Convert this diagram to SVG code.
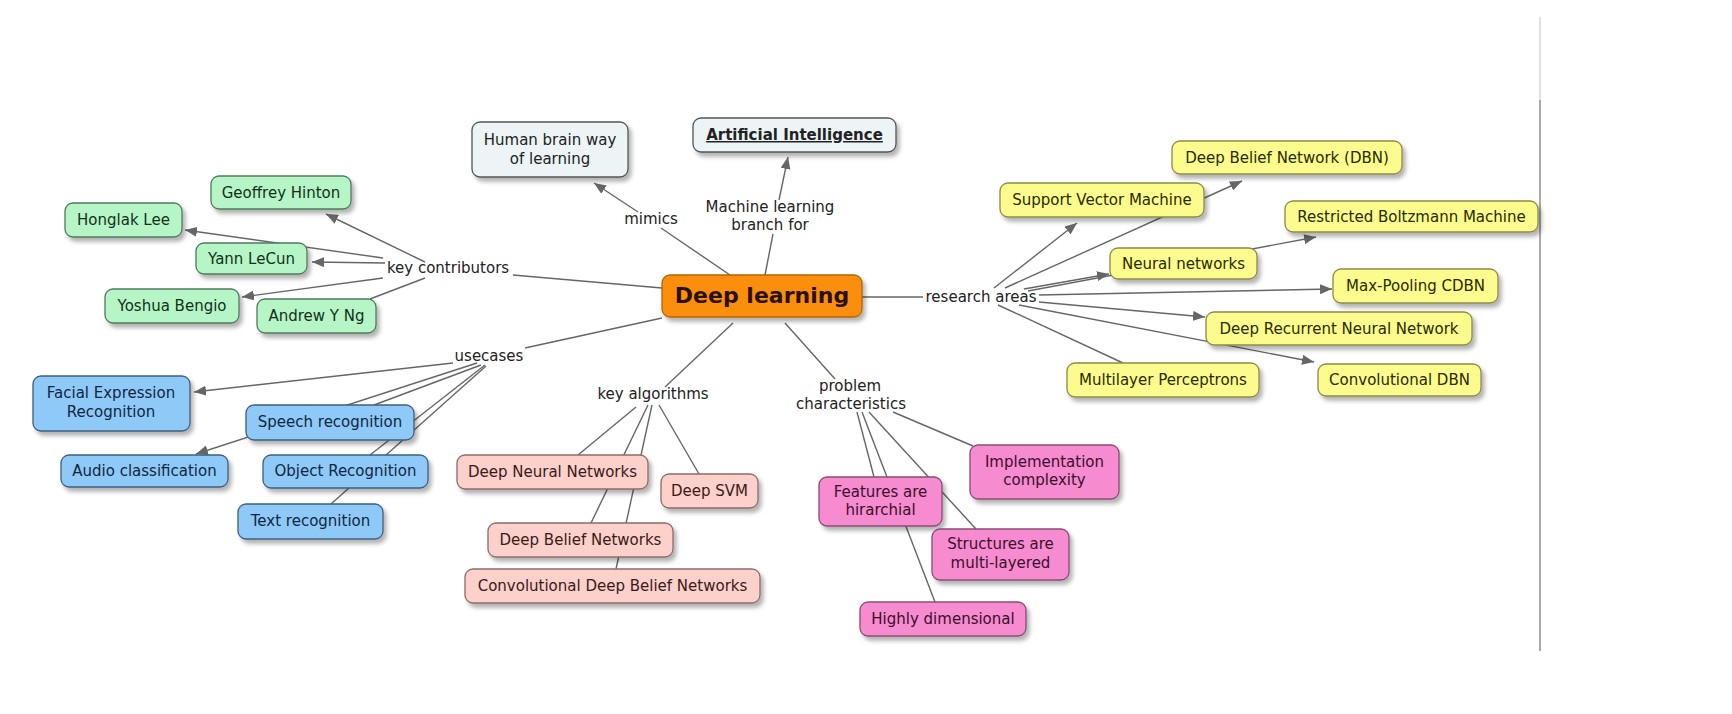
<svg xmlns="http://www.w3.org/2000/svg" width="1732" height="714" viewBox="0 0 1732 714">
<defs>
<filter id="sh" x="-10%" y="-20%" width="130%" height="160%">
<feDropShadow dx="3" dy="4" stdDeviation="2" flood-color="#000" flood-opacity="0.3"/>
</filter>
<marker id="ar" viewBox="0 0 12 10" refX="12" refY="5" markerWidth="12" markerHeight="10" markerUnits="userSpaceOnUse" orient="auto">
<path d="M0,0 L12,5 L0,10 Z" fill="#666"/>
</marker>
</defs>
<style>
text{font-family:"DejaVu Sans",Verdana,sans-serif;font-size:15px;text-anchor:middle}
.n rect{stroke-width:1.3;filter:url(#sh)}
.g rect{fill:#b6f5c6;stroke:#4f7a5c}
.g text{fill:#12301a}
.b rect{fill:#8fc9f7;stroke:#3e5f80}
.b text{fill:#0f2740}
.p rect{fill:#fcd0cb;stroke:#8f6b66}
.p text{fill:#3a1a18}
.m rect{fill:#f78bd0;stroke:#8a4c73}
.m text{fill:#3a0f2a}
.y rect{fill:#fcfc8e;stroke:#8a8a48}
.y text{fill:#2a2a00}
.w rect{fill:#ecf4f6;stroke:#555}
.w text{fill:#222}
.o rect{fill:#fb8e0c;stroke:#b56500}
.o text{fill:#2a1000;font-weight:bold;font-size:22px}
.lab{fill:#222}
#connectors line{stroke:#666;stroke-width:1.4;fill:none}
#connectors line.a{marker-end:url(#ar)}
</style>
<rect width="1732" height="714" fill="#fff"/>
<line x1="1540" y1="17" x2="1540" y2="100" stroke="#e0e0e0" stroke-width="2"/>
<line x1="1540" y1="100" x2="1540" y2="651" stroke="#aaa" stroke-width="2"/>
<g id="connectors">
<line x1="730" y1="275" x2="661" y2="228"/>
<line class="a" x1="638" y1="212" x2="594" y2="183"/>
<line x1="765" y1="275" x2="773" y2="234"/>
<line class="a" x1="779" y1="200" x2="788" y2="157"/>
<line x1="662" y1="288" x2="513" y2="275"/>
<line x1="662" y1="318" x2="525" y2="348"/>
<line x1="733" y1="323" x2="665" y2="387"/>
<line x1="785" y1="323" x2="835" y2="379"/>
<line x1="862" y1="297" x2="923" y2="297"/>
<line class="a" x1="425" y1="262" x2="326" y2="214"/>
<line class="a" x1="383" y1="258" x2="185" y2="230"/>
<line class="a" x1="385" y1="263" x2="312" y2="262"/>
<line class="a" x1="383" y1="278" x2="242" y2="297"/>
<line x1="425" y1="278" x2="370" y2="299"/>
<line class="a" x1="453" y1="363" x2="194" y2="392"/>
<line class="a" x1="477" y1="363" x2="196" y2="454"/>
<line x1="481" y1="365" x2="374" y2="405"/>
<line x1="485" y1="365" x2="370" y2="455"/>
<line x1="486" y1="366" x2="331" y2="504"/>
<line x1="636" y1="407" x2="578" y2="455"/>
<line x1="648" y1="405" x2="591" y2="523"/>
<line x1="652" y1="405" x2="616" y2="569"/>
<line x1="659" y1="405" x2="699" y2="474"/>
<line x1="857" y1="412" x2="874" y2="477"/>
<line x1="862" y1="412" x2="935" y2="602"/>
<line x1="869" y1="412" x2="976" y2="529"/>
<line x1="893" y1="412" x2="973" y2="446"/>
<line class="a" x1="994" y1="288" x2="1077" y2="223"/>
<line class="a" x1="1005" y1="288" x2="1242" y2="181"/>
<line class="a" x1="1024" y1="289" x2="1109" y2="274"/>
<line class="a" x1="1028" y1="291" x2="1316" y2="237"/>
<line class="a" x1="1039" y1="295" x2="1332" y2="289"/>
<line class="a" x1="1039" y1="302" x2="1205" y2="317"/>
<line class="a" x1="1019" y1="305" x2="1314" y2="362"/>
<line x1="998" y1="305" x2="1123" y2="363"/>
</g>
<g id="labels" class="lab">
<text x="651" y="224">mimics</text>
<text x="770" y="212">Machine learning</text>
<text x="770" y="230">branch for</text>
<text x="448" y="273">key contributors</text>
<text x="489" y="361">usecases</text>
<text x="653" y="399">key algorithms</text>
<text x="850" y="391">problem</text>
<text x="851" y="409">characteristics</text>
<text x="981" y="302">research areas</text>
</g>
<g id="deep-learning" class="n o"><rect x="662" y="275" width="200" height="42" rx="8"/><text x="762" y="303">Deep learning</text></g>
<g id="human-brain" class="n w"><rect x="472" y="122" width="156" height="55" rx="8"/><text x="550" y="145">Human brain way</text><text x="550" y="164">of learning</text></g>
<g id="artificial-intelligence" class="n w"><rect x="693" y="118" width="203" height="34" rx="8"/><text x="794.5" y="140" style="font-weight:bold;text-decoration:underline">Artificial Intelligence</text></g>
<g id="geoffrey-hinton" class="n g"><rect x="211" y="176" width="140" height="33" rx="8"/><text x="281" y="198">Geoffrey Hinton</text></g>
<g id="honglak-lee" class="n g"><rect x="65" y="203" width="117" height="34" rx="8"/><text x="123.5" y="225">Honglak Lee</text></g>
<g id="yann-lecun" class="n g"><rect x="196" y="243" width="111" height="31" rx="8"/><text x="251.5" y="264">Yann LeCun</text></g>
<g id="yoshua-bengio" class="n g"><rect x="105" y="289" width="134" height="34" rx="8"/><text x="172" y="311">Yoshua Bengio</text></g>
<g id="andrew-ng" class="n g"><rect x="257" y="299" width="119" height="34" rx="8"/><text x="316.5" y="321">Andrew Y Ng</text></g>
<g id="facial-expression" class="n b"><rect x="33" y="376" width="157" height="55" rx="8"/><text x="111" y="398">Facial Expression</text><text x="111" y="417">Recognition</text></g>
<g id="speech-recognition" class="n b"><rect x="246" y="405" width="168" height="35" rx="8"/><text x="330" y="427">Speech recognition</text></g>
<g id="audio-classification" class="n b"><rect x="61" y="455" width="167" height="32" rx="8"/><text x="144.5" y="476">Audio classification</text></g>
<g id="object-recognition" class="n b"><rect x="263" y="455" width="165" height="33" rx="8"/><text x="345.5" y="476">Object Recognition</text></g>
<g id="text-recognition" class="n b"><rect x="238" y="504" width="145" height="35" rx="8"/><text x="310.5" y="526">Text recognition</text></g>
<g id="deep-neural-networks" class="n p"><rect x="457" y="455" width="191" height="34" rx="8"/><text x="552.5" y="477">Deep Neural Networks</text></g>
<g id="deep-svm" class="n p"><rect x="661" y="474" width="97" height="34" rx="8"/><text x="709.5" y="496">Deep SVM</text></g>
<g id="deep-belief-networks" class="n p"><rect x="488" y="523" width="185" height="34" rx="8"/><text x="580.5" y="545">Deep Belief Networks</text></g>
<g id="conv-deep-belief-networks" class="n p"><rect x="465" y="569" width="295" height="34" rx="8"/><text x="612.5" y="591">Convolutional Deep Belief Networks</text></g>
<g id="features-hirarchial" class="n m"><rect x="819" y="477" width="123" height="49" rx="8"/><text x="880.5" y="497">Features are</text><text x="880.5" y="515">hirarchial</text></g>
<g id="implementation-complexity" class="n m"><rect x="970" y="445" width="149" height="54" rx="8"/><text x="1044.5" y="467">Implementation</text><text x="1044.5" y="485">complexity</text></g>
<g id="structures-multilayered" class="n m"><rect x="932" y="529" width="137" height="51" rx="8"/><text x="1000.5" y="549">Structures are</text><text x="1000.5" y="568">multi-layered</text></g>
<g id="highly-dimensional" class="n m"><rect x="860" y="602" width="166" height="34" rx="8"/><text x="943" y="624">Highly dimensional</text></g>
<g id="dbn" class="n y"><rect x="1172" y="141" width="230" height="33" rx="8"/><text x="1287" y="163">Deep Belief Network (DBN)</text></g>
<g id="svm" class="n y"><rect x="1000" y="183" width="204" height="34" rx="8"/><text x="1102" y="205">Support Vector Machine</text></g>
<g id="rbm" class="n y"><rect x="1285" y="201" width="253" height="31" rx="8"/><text x="1411.5" y="222">Restricted Boltzmann Machine</text></g>
<g id="neural-networks" class="n y"><rect x="1110" y="248" width="147" height="31" rx="8"/><text x="1183.5" y="269">Neural networks</text></g>
<g id="max-pooling-cdbn" class="n y"><rect x="1333" y="269" width="165" height="34" rx="8"/><text x="1415.5" y="291">Max-Pooling CDBN</text></g>
<g id="deep-recurrent-nn" class="n y"><rect x="1206" y="312" width="266" height="33" rx="8"/><text x="1339" y="334">Deep Recurrent Neural Network</text></g>
<g id="multilayer-perceptrons" class="n y"><rect x="1067" y="363" width="192" height="34" rx="8"/><text x="1163" y="385">Multilayer Perceptrons</text></g>
<g id="convolutional-dbn" class="n y"><rect x="1318" y="364" width="163" height="32" rx="8"/><text x="1399.5" y="385">Convolutional DBN</text></g>
</svg>
